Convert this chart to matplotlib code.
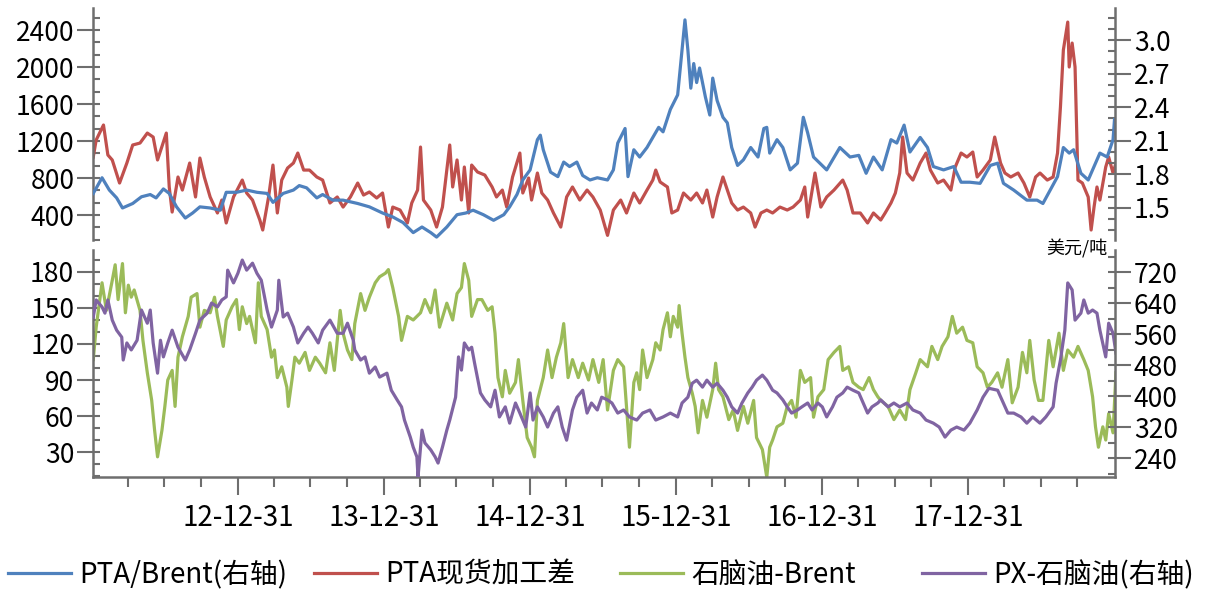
import numpy as np
import pandas as pd
import matplotlib
matplotlib.use('Agg')
import matplotlib.pyplot as plt
import matplotlib.dates as mdates
from matplotlib.ticker import MultipleLocator, FixedLocator, FormatStrFormatter

plt.rcParams['font.family'] = ['Noto Sans CJK SC', 'DejaVu Sans']

# time axis: years elapsed since 2012-01-01
pta_brent_t = [0.01, 0.07, 0.12, 0.17, 0.21, 0.28, 0.34, 0.40, 0.44, 0.49, 0.53, 0.58, 0.64, 0.69, 0.74,
               0.81, 0.88, 0.92, 0.99, 1.06, 1.13, 1.20, 1.24, 1.31, 1.38, 1.42, 1.47, 1.54, 1.58, 1.65,
               1.72, 1.82, 1.90, 1.99, 2.06, 2.13, 2.20, 2.26, 2.32, 2.36, 2.43, 2.50, 2.56, 2.61, 2.68,
               2.75, 2.82, 2.86, 2.91, 2.95, 3.00, 3.05, 3.07, 3.09, 3.14, 3.19, 3.23, 3.27, 3.32, 3.36,
               3.41, 3.46, 3.53, 3.57, 3.60, 3.65, 3.67, 3.71, 3.75, 3.80, 3.84, 3.88, 3.91, 3.96, 4.01,
               4.04, 4.06, 4.08, 4.10, 4.12, 4.14, 4.16, 4.20, 4.23, 4.25, 4.28, 4.32, 4.35, 4.38, 4.42,
               4.46, 4.51, 4.56, 4.60, 4.62, 4.64, 4.69, 4.73, 4.78, 4.83, 4.87, 4.90, 4.94, 5.03, 5.12,
               5.19, 5.25, 5.30, 5.35, 5.41, 5.47, 5.51, 5.56, 5.60, 5.67, 5.72, 5.76, 5.83, 5.90, 5.95,
               6.01, 6.08, 6.15, 6.20, 6.24, 6.31, 6.40, 6.47, 6.51, 6.56, 6.61, 6.65, 6.69, 6.72, 6.77,
               6.82, 6.86, 6.90, 6.95, 6.99, 7.00]
pta_brent = [1.63, 1.77, 1.66, 1.59, 1.50, 1.54, 1.60, 1.62, 1.59, 1.67, 1.63, 1.51, 1.41, 1.455, 1.51,
             1.50, 1.48, 1.64, 1.64, 1.66, 1.64, 1.63, 1.55, 1.63, 1.66, 1.70, 1.68, 1.59, 1.62, 1.57,
             1.57, 1.54, 1.51, 1.455, 1.42, 1.37, 1.28, 1.33, 1.28, 1.24, 1.33, 1.44, 1.455, 1.48, 1.44,
             1.39, 1.44, 1.51, 1.62, 1.75, 1.84, 2.11, 2.15, 2.02, 1.82, 1.78, 1.91, 1.87, 1.91, 1.79,
             1.75, 1.77, 1.75, 1.84, 2.08, 2.21, 1.78, 2.02, 1.955, 2.04, 2.13, 2.22, 2.18, 2.38, 2.51,
             2.91, 3.18, 2.91, 2.57, 2.79, 2.62, 2.75, 2.49, 2.33, 2.66, 2.46, 2.31, 2.26, 2.04, 1.88,
             1.93, 2.04, 1.955, 2.21, 2.22, 1.99, 2.11, 2.04, 1.84, 1.90, 2.31, 2.17, 1.955, 1.84, 2.04,
             1.955, 1.97, 1.81, 1.955, 1.84, 2.11, 2.08, 2.24, 2.00, 2.13, 2.04, 1.87, 1.84, 1.87, 1.73,
             1.73, 1.72, 1.88, 1.90, 1.72, 1.66, 1.57, 1.57, 1.54, 1.66, 1.78, 2.04, 1.99, 2.02, 1.81,
             1.75, 1.87, 1.99, 1.955, 2.11, 2.29]

pta_spread_t = [0.01, 0.03, 0.08, 0.11, 0.14, 0.19, 0.24, 0.28, 0.33, 0.38, 0.42, 0.45, 0.51, 0.53, 0.55,
                0.59, 0.62, 0.67, 0.71, 0.74, 0.77, 0.81, 0.86, 0.89, 0.92, 0.97, 1.03, 1.06, 1.10, 1.15,
                1.17, 1.21, 1.24, 1.27, 1.30, 1.34, 1.38, 1.41, 1.45, 1.49, 1.54, 1.58, 1.63, 1.68, 1.72,
                1.77, 1.82, 1.86, 1.90, 1.95, 1.99, 2.03, 2.06, 2.11, 2.16, 2.19, 2.23, 2.25, 2.27, 2.32,
                2.36, 2.40, 2.43, 2.45, 2.47, 2.50, 2.53, 2.55, 2.58, 2.60, 2.64, 2.69, 2.74, 2.77, 2.81,
                2.84, 2.88, 2.93, 2.95, 2.99, 3.01, 3.05, 3.08, 3.12, 3.16, 3.21, 3.25, 3.29, 3.34, 3.39,
                3.43, 3.48, 3.53, 3.57, 3.62, 3.66, 3.71, 3.75, 3.80, 3.84, 3.86, 3.89, 3.94, 3.97, 4.01,
                4.05, 4.10, 4.14, 4.18, 4.21, 4.25, 4.28, 4.32, 4.35, 4.38, 4.42, 4.46, 4.51, 4.54, 4.58,
                4.62, 4.66, 4.71, 4.76, 4.80, 4.85, 4.88, 4.90, 4.95, 4.99, 5.03, 5.08, 5.14, 5.17, 5.21,
                5.26, 5.31, 5.35, 5.40, 5.43, 5.47, 5.50, 5.53, 5.55, 5.58, 5.62, 5.67, 5.71, 5.74, 5.79,
                5.83, 5.88, 5.91, 5.95, 5.99, 6.03, 6.06, 6.10, 6.15, 6.18, 6.22, 6.25, 6.29, 6.34, 6.38,
                6.42, 6.46, 6.49, 6.54, 6.58, 6.61, 6.63, 6.65, 6.68, 6.69, 6.71, 6.73, 6.75, 6.78, 6.82,
                6.84, 6.86, 6.88, 6.90, 6.94, 6.96, 6.99, 7.01]
pta_spread = [1027, 1211, 1373, 1049, 995, 746, 962, 1157, 1178, 1286, 1243, 995, 1286, 703, 432,
              811, 670, 962, 595, 1016, 811, 595, 422, 562, 314, 595, 778, 638, 562, 346,
              238, 595, 940, 422, 778, 908, 962, 1070, 886, 886, 811, 778, 530, 595, 486,
              595, 746, 616, 649, 584, 638, 270, 486, 454, 314, 530, 670, 1135, 562, 454,
              270, 486, 886, 1157, 703, 995, 562, 919, 422, 940, 865, 832, 703, 595, 670,
              486, 811, 1070, 638, 800, 562, 854, 638, 562, 422, 270, 595, 703, 562, 670,
              595, 454, 180, 454, 562, 422, 638, 530, 670, 778, 886, 757, 703, 422, 454,
              638, 562, 638, 530, 670, 378, 595, 811, 670, 530, 454, 486, 422, 270, 422,
              454, 422, 486, 454, 486, 562, 703, 378, 854, 486, 595, 670, 778, 670, 422,
              422, 314, 422, 346, 422, 530, 638, 854, 1243, 854, 778, 962, 1070, 886, 746,
              778, 670, 919, 1070, 1027, 1081, 811, 886, 995, 1243, 962, 854, 811, 854, 746,
              595, 811, 854, 778, 811, 1070, 1568, 2184, 2486, 2000, 2259, 2000, 778, 746, 595,
              238, 486, 703, 562, 919, 1027, 854, 962]

naphtha_t = [0.01, 0.03, 0.07, 0.10, 0.14, 0.16, 0.18, 0.21, 0.23, 0.25, 0.27, 0.29, 0.33, 0.35, 0.38,
             0.41, 0.43, 0.45, 0.48, 0.50, 0.52, 0.55, 0.57, 0.59, 0.62, 0.66, 0.68, 0.72, 0.74, 0.77,
             0.81, 0.84, 0.86, 0.90, 0.92, 0.96, 0.99, 1.01, 1.03, 1.06, 1.08, 1.12, 1.14, 1.16, 1.20,
             1.23, 1.25, 1.27, 1.30, 1.335, 1.345, 1.37, 1.39, 1.42, 1.46, 1.49, 1.53, 1.56, 1.60, 1.63,
             1.66, 1.70, 1.72, 1.75, 1.78, 1.80, 1.84, 1.87, 1.90, 1.94, 1.97, 2.01, 2.03, 2.06, 2.10,
             2.12, 2.16, 2.20, 2.25, 2.28, 2.32, 2.35, 2.38, 2.43, 2.47, 2.50, 2.53, 2.55, 2.58, 2.60,
             2.64, 2.67, 2.71, 2.74, 2.76, 2.78, 2.81, 2.83, 2.86, 2.90, 2.92, 2.95, 2.98, 3.01, 3.03,
             3.05, 3.09, 3.12, 3.15, 3.18, 3.21, 3.23, 3.26, 3.29, 3.33, 3.36, 3.40, 3.43, 3.47, 3.50,
             3.53, 3.57, 3.60, 3.64, 3.66, 3.68, 3.71, 3.73, 3.75, 3.77, 3.80, 3.84, 3.86, 3.89, 3.91,
             3.94, 3.96, 3.98, 4.01, 4.02, 4.04, 4.06, 4.08, 4.11, 4.13, 4.15, 4.18, 4.21, 4.25, 4.27,
             4.29, 4.32, 4.36, 4.39, 4.42, 4.46, 4.49, 4.53, 4.55, 4.59, 4.62, 4.64, 4.66, 4.69, 4.73,
             4.76, 4.79, 4.82, 4.85, 4.88, 4.92, 4.94, 4.97, 5.01, 5.04, 5.08, 5.12, 5.14, 5.18, 5.21,
             5.25, 5.28, 5.32, 5.35, 5.38, 5.40, 5.45, 5.49, 5.53, 5.57, 5.60, 5.64, 5.67, 5.72, 5.75,
             5.79, 5.82, 5.86, 5.89, 5.92, 5.96, 5.99, 6.03, 6.06, 6.10, 6.13, 6.16, 6.20, 6.23, 6.27,
             6.30, 6.34, 6.37, 6.40, 6.42, 6.45, 6.48, 6.51, 6.55, 6.58, 6.62, 6.65, 6.68, 6.72, 6.75,
             6.79, 6.82, 6.85, 6.87, 6.89, 6.92, 6.94, 6.96, 6.99, 7.01]
naphtha_brent = [107, 134, 171, 148, 173, 186, 157, 187, 146, 169, 159, 165, 148, 123, 96,
                 73, 48, 26, 48, 68, 90, 98, 68, 109, 126, 143, 159, 162, 134, 148,
                 146, 159, 143, 118, 140, 151, 157, 132, 151, 137, 143, 121, 171, 143, 132,
                 109, 115, 92, 101, 84, 68, 90, 109, 104, 113, 98, 109, 104, 96, 121,
                 98, 148, 129, 115, 107, 137, 162, 148, 159, 171, 176, 179, 182, 167, 143,
                 123, 143, 140, 146, 157, 146, 165, 134, 154, 140, 162, 167, 187, 173, 143,
                 157, 157, 148, 151, 129, 92, 76, 98, 79, 88, 107, 73, 42, 34, 26,
                 73, 92, 115, 92, 109, 121, 137, 92, 107, 92, 104, 90, 107, 88, 107,
                 65, 98, 107, 101, 68, 34, 88, 96, 82, 115, 92, 107, 121, 115, 132,
                 146, 126, 143, 134, 152, 129, 109, 92, 79, 68, 46, 73, 59, 82, 104,
                 82, 76, 57, 65, 48, 68, 54, 73, 42, 32, 9, 34, 40, 51, 54,
                 68, 73, 59, 98, 88, 92, 59, 76, 82, 107, 113, 118, 98, 101, 88,
                 84, 82, 92, 82, 76, 73, 68, 57, 65, 57, 82, 96, 107, 101, 118,
                 107, 118, 126, 143, 129, 134, 123, 121, 101, 96, 84, 88, 96, 84, 107,
                 71, 84, 113, 96, 123, 90, 73, 73, 123, 101, 129, 98, 115, 109, 118,
                 107, 98, 76, 51, 34, 51, 40, 62, 46, 96]

px_t = [0.01, 0.03, 0.07, 0.09, 0.11, 0.14, 0.17, 0.205, 0.215, 0.24, 0.27, 0.31, 0.34, 0.38, 0.40,
        0.42, 0.45, 0.47, 0.49, 0.52, 0.55, 0.59, 0.64, 0.67, 0.71, 0.74, 0.79, 0.82, 0.86, 0.89,
        0.92, 0.93, 0.97, 1.00, 1.03, 1.06, 1.10, 1.13, 1.16, 1.20, 1.23, 1.27, 1.28, 1.31, 1.34,
        1.38, 1.41, 1.45, 1.48, 1.51, 1.55, 1.58, 1.63, 1.68, 1.72, 1.75, 1.79, 1.80, 1.84, 1.87,
        1.90, 1.94, 1.97, 2.02, 2.05, 2.09, 2.12, 2.14, 2.18, 2.20, 2.225, 2.233, 2.26, 2.28, 2.32,
        2.35, 2.37, 2.40, 2.43, 2.45, 2.49, 2.51, 2.53, 2.55, 2.58, 2.60, 2.62, 2.66, 2.69, 2.73,
        2.76, 2.79, 2.83, 2.86, 2.90, 2.93, 2.97, 3.00, 3.02, 3.05, 3.09, 3.12, 3.16, 3.19, 3.22,
        3.25, 3.29, 3.32, 3.36, 3.39, 3.42, 3.46, 3.49, 3.53, 3.56, 3.60, 3.64, 3.68, 3.73, 3.77,
        3.82, 3.86, 3.91, 3.96, 4.01, 4.04, 4.08, 4.11, 4.14, 4.18, 4.21, 4.25, 4.28, 4.32, 4.35,
        4.38, 4.42, 4.45, 4.49, 4.52, 4.55, 4.59, 4.62, 4.66, 4.69, 4.73, 4.76, 4.79, 4.83, 4.86,
        4.90, 4.93, 4.97, 5.00, 5.03, 5.07, 5.10, 5.14, 5.17, 5.21, 5.25, 5.28, 5.31, 5.34, 5.38,
        5.40, 5.45, 5.49, 5.53, 5.58, 5.62, 5.67, 5.71, 5.76, 5.80, 5.84, 5.88, 5.92, 5.97, 6.01,
        6.06, 6.10, 6.14, 6.20, 6.23, 6.27, 6.31, 6.36, 6.40, 6.44, 6.49, 6.53, 6.58, 6.60, 6.63,
        6.66, 6.68, 6.71, 6.73, 6.77, 6.79, 6.82, 6.85, 6.88, 6.90, 6.94, 6.96, 6.99, 7.01]
px_naphtha = [604, 648, 630, 614, 648, 596, 570, 552, 493, 537, 519, 544, 622, 588, 622,
              537, 459, 544, 501, 537, 570, 526, 493, 519, 562, 596, 614, 640, 630, 648,
              656, 725, 692, 717, 751, 725, 743, 717, 699, 622, 578, 622, 699, 604, 614,
              578, 537, 562, 578, 562, 537, 570, 596, 562, 562, 588, 544, 519, 493, 501,
              459, 475, 449, 459, 415, 390, 372, 338, 294, 268, 243, 191, 312, 279, 261,
              243, 227, 268, 312, 338, 397, 501, 467, 537, 519, 526, 485, 408, 390, 372,
              415, 346, 372, 330, 382, 356, 320, 408, 338, 372, 346, 320, 356, 372, 320,
              286, 364, 397, 415, 356, 382, 364, 397, 390, 382, 356, 364, 346, 338, 356,
              364, 338, 346, 356, 346, 382, 397, 433, 441, 423, 441, 423, 433, 415, 397,
              372, 356, 382, 408, 423, 441, 454, 441, 415, 408, 390, 372, 356, 364, 372,
              382, 364, 382, 372, 346, 372, 397, 408, 423, 415, 408, 382, 356, 372, 382,
              390, 372, 382, 372, 382, 364, 356, 338, 330, 320, 294, 312, 320, 312, 330,
              364, 397, 420, 415, 390, 356, 356, 346, 330, 346, 330, 346, 372, 433, 493,
              570, 692, 674, 596, 614, 648, 614, 622, 614, 570, 501, 588, 562, 511]

year_ends = ['2012-12-31', '2013-12-31', '2014-12-31', '2015-12-31', '2016-12-31', '2017-12-31']

BLUE, RED, GREEN, PURPLE = '#4f81bd', '#c0504d', '#9bbb59', '#8064a2'
GRAY = '#6e6e6e'
FS = 19
LW = 2.3


def to_dates(t):
    return pd.Timestamp('2012-01-01') + pd.to_timedelta(np.asarray(t) * 365.25, unit='D')


fig = plt.figure(figsize=(12.08, 5.95), dpi=100)
left, width = 93 / 1208, 1022 / 1208
ax_top = fig.add_axes([left, 1 - 240 / 595, width, 232 / 595])
ax_bot = fig.add_axes([left, 1 - 477 / 595, width, 227 / 595], sharex=ax_top)
ax_top_r = ax_top.twinx()
ax_bot_r = ax_bot.twinx()

l_spread, = ax_top.plot(to_dates(pta_spread_t), pta_spread, color=RED, lw=LW)
l_ratio, = ax_top_r.plot(to_dates(pta_brent_t), pta_brent, color=BLUE, lw=LW)
l_naph, = ax_bot.plot(to_dates(naphtha_t), naphtha_brent, color=GREEN, lw=LW)
l_px, = ax_bot_r.plot(to_dates(px_t), px_naphtha, color=PURPLE, lw=LW)

ax_top.set_ylim(130, 2638)
ax_top_r.set_ylim(1.214, 3.286)
ax_bot.set_ylim(9.2, 198.3)
ax_bot_r.set_ylim(191, 777)
ax_bot.set_xlim(pd.Timestamp('2012-01-04'), pd.Timestamp('2019-01-02'))


def style_y(ax, major, minor, fmt=None):
    ax.yaxis.set_major_locator(MultipleLocator(major))
    ax.yaxis.set_minor_locator(MultipleLocator(minor))
    ax.yaxis.remove_overlapping_locs = False
    if fmt:
        ax.yaxis.set_major_formatter(FormatStrFormatter(fmt))
    ax.tick_params(axis='y', which='major', direction='out', length=11.5, width=1.5,
                   color=GRAY, labelsize=FS, pad=2)
    ax.tick_params(axis='y', which='minor', direction='in', length=5, width=1.5, color=GRAY)
    for s in ax.spines.values():
        s.set_color(GRAY)
        s.set_linewidth(1.8)
    ax.spines['top'].set_visible(False)


style_y(ax_top, 400, 400 / 3)
style_y(ax_top_r, 0.3, 0.1, '%.1f')
style_y(ax_bot, 30, 10)
style_y(ax_bot_r, 80, 40)

ax_top.spines['bottom'].set_visible(False)
ax_top.spines['right'].set_visible(False)
ax_top_r.spines['bottom'].set_visible(False)
ax_top_r.spines['left'].set_visible(False)
ax_bot.spines['right'].set_visible(False)
ax_bot_r.spines['left'].set_visible(False)
ax_bot_r.spines['bottom'].set_visible(False)
ax_top.tick_params(axis='x', which='both', bottom=False, labelbottom=False)

# yearly labels at year end, quarter-end minor ticks
ax_bot.xaxis.set_major_locator(FixedLocator(mdates.date2num(pd.to_datetime(year_ends))))
ax_bot.xaxis.set_minor_locator(FixedLocator(
    mdates.date2num(pd.date_range('2012-03-31', '2018-09-30', freq='QE'))))
ax_bot.xaxis.set_major_formatter(mdates.DateFormatter('%y-%m-%d'))
ax_bot.tick_params(axis='x', which='major', direction='out', length=13, width=1.5,
                   color=GRAY, labelsize=FS + 1, pad=6)
ax_bot.tick_params(axis='x', which='minor', direction='out', length=7.2, width=1.5, color=GRAY)

fig.text(1077 / 1208, 1 - 249 / 595, '美元/吨', ha='center', va='center', fontsize=13)

entries = [(l_ratio, 'PTA/Brent(右轴)', 8), (l_spread, 'PTA现货加工差', 314),
           (l_naph, '石脑油-Brent', 620), (l_px, 'PX-石脑油(右轴)', 922)]
for handle, label, x in entries:
    fig.legend([handle], [label], loc='center left', bbox_to_anchor=(x / 1208, 1 - 575 / 595),
               frameon=False, fontsize=FS + 1, handlelength=2.25, handletextpad=0.3,
               borderpad=0, borderaxespad=0)

fig.savefig('out.png', dpi=100)
